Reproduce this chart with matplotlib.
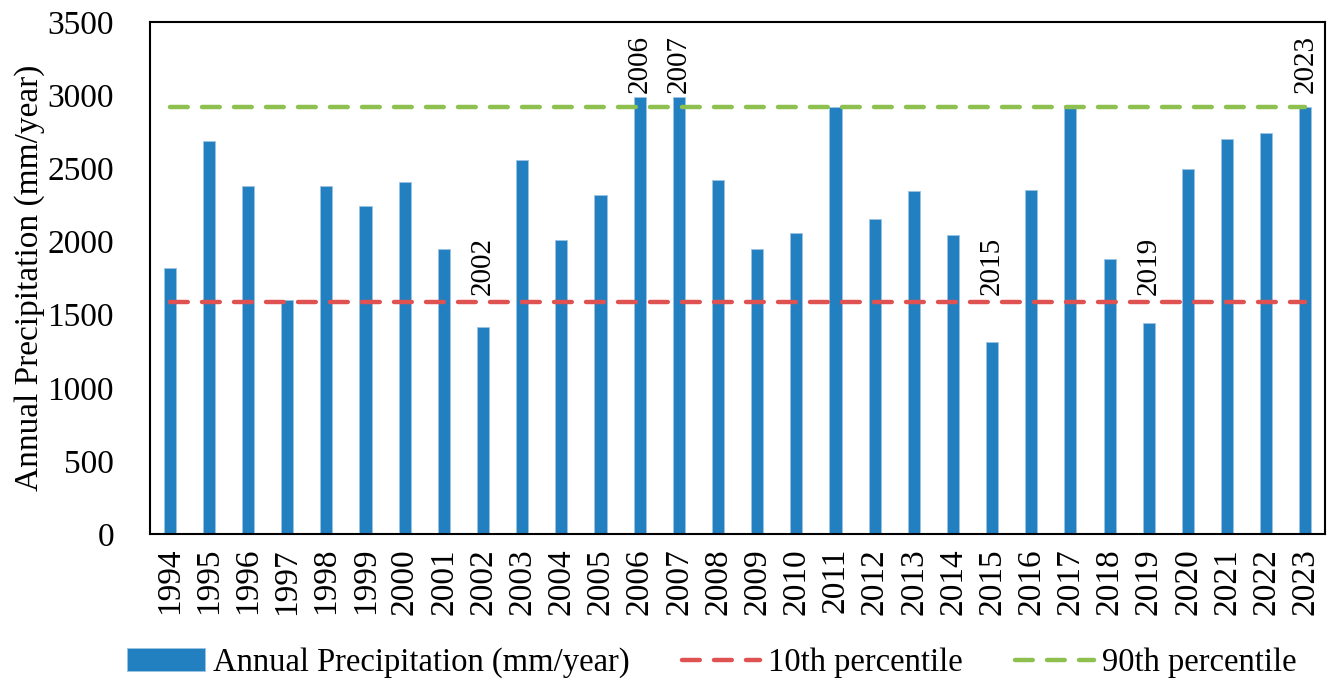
import matplotlib
matplotlib.use('Agg')
import matplotlib.pyplot as plt
import numpy as np

years = list(range(1994, 2024))
precip = [1820, 2685, 2380, 1600, 2380, 2240, 2410, 1950, 1415, 2555,
          2010, 2315, 2985, 2990, 2420, 1950, 2060, 2920, 2155, 2345,
          2045, 1315, 2355, 2915, 1880, 1440, 2495, 2700, 2745, 2920]
p10 = 1585
p90 = 2918
wet_years = [2006, 2007, 2023]
dry_years = [2002, 2015, 2019]

plt.rcParams['font.family'] = ['Liberation Serif', 'DejaVu Serif']

fig = plt.figure(figsize=(13.35, 6.9), dpi=100)
ax = fig.add_axes([0.1124, 0.226, 0.8801, 0.742])

x = np.arange(len(years))
bars = ax.bar(x, precip, width=0.31, color='#2380C0', edgecolor='#9CC3E4', linewidth=0.6,
              label='Annual Precipitation (mm/year)', zorder=2)
l10, = ax.plot(x, [p10] * len(x), color='#E05252', lw=3.2, dashes=(4, 3.2),
               dash_capstyle='round', label='10th percentile', zorder=3)
l90, = ax.plot(x, [p90] * len(x), color='#8DC04F', lw=3.2, dashes=(4, 3.2),
               dash_capstyle='round', label='90th percentile', zorder=3)

# year labels for the extreme years
for yr in wet_years:
    i = years.index(yr)
    ax.text(i, p90 + 100, str(yr), rotation=90, ha='center', va='bottom', fontsize=21)
for yr in dry_years:
    i = years.index(yr)
    ax.text(i, p10 + 50, str(yr), rotation=90, ha='center', va='bottom', fontsize=21)

ax.set_xlim(-0.5, len(years) - 0.5)
ax.set_ylim(0, 3500)
ax.set_yticks(range(0, 3501, 500))
ax.set_xticks(x)
ax.set_xticklabels([str(y) for y in years], rotation=90)
ax.tick_params(axis='y', length=0, pad=26, labelsize=24)
ax.tick_params(axis='x', length=0, pad=10, labelsize=24)
ax.set_ylabel('Annual Precipitation (mm/year)', fontsize=24, labelpad=2)
for s in ax.spines.values():
    s.set_linewidth(1.5)
    s.set_color('black')

fig.legend(handles=[bars, l10, l90], loc='center', bbox_to_anchor=(0.533, 0.039),
           ncol=3, frameon=False, fontsize=23.5, handlelength=2.4, handletextpad=0.25,
           columnspacing=1.6, borderaxespad=0)

fig.savefig('out.png', dpi=100)
